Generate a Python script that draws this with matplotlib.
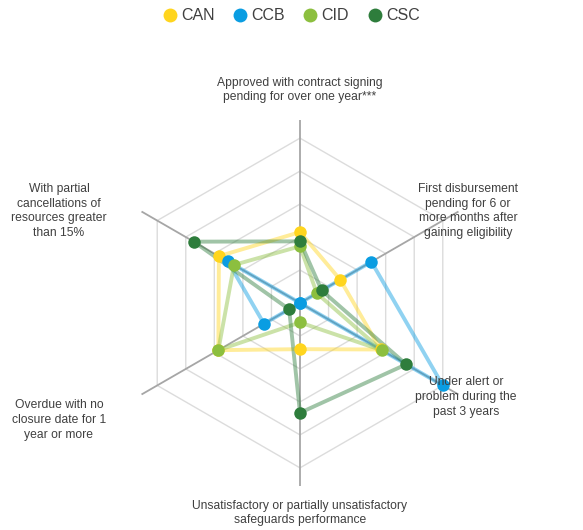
import numpy as np
import matplotlib
matplotlib.use("Agg")
import matplotlib.pyplot as plt
from matplotlib.lines import Line2D

plt.rcParams['font.family'] = ['Liberation Sans', 'DejaVu Sans']

categories = [
    "Approved with contract signing\npending for over one year***",
    "First disbursement\npending for 6 or\nmore months after\ngaining eligibility",
    "Under alert or\nproblem during the\npast 3 years",
    "Unsatisfactory or partially unsatisfactory\nsafeguards performance",
    "Overdue with no\nclosure date for 1\nyear or more",
    "With partial\ncancellations of\nresources greater\nthan 15%",
]
series_names = ["CAN", "CCB", "CID", "CSC"]
can = [2.15, 1.41, 2.82, 1.40, 2.86, 2.84]
ccb = [0.0, 2.50, 5.0, 0.0, 1.26, 2.53]
cid = [1.72, 0.59, 2.86, 0.59, 2.86, 2.31]
csc = [1.87, 0.76, 3.72, 3.33, 0.38, 3.72]
colors = ["#FFD51E", "#0A9DE2", "#8CBF3F", "#2E7D3C"]

W, H = 583, 530
fig = plt.figure(figsize=(W / 100, H / 100), dpi=100)

# polar axes centred at (300, 303) px, radius 183 px
cx, cy, R = 300, 303, 183
ax = fig.add_axes([(cx - R) / W, (H - cy - R) / H, 2 * R / W, 2 * R / H], projection="polar")
ax.set_theta_zero_location("N")
ax.set_theta_direction(-1)
rmax = 5.55
ax.set_ylim(0, rmax)
ax.set_xticks([])
ax.set_yticks([])
ax.grid(False)
ax.spines["polar"].set_visible(False)

n = len(categories)
theta = np.arange(n) * 2 * np.pi / n
theta_c = np.append(theta, theta[0])

# hexagonal rings
for r in [1, 2, 3, 4, 5]:
    ax.plot(theta_c, [r] * (n + 1), color="#dcdcdc", lw=1.0, zorder=1)
# spokes
for t in theta:
    ax.plot([t, t], [0, rmax], color="#a6a6a6", lw=1.3, zorder=2)

for vals, col in zip([can, ccb, cid, csc], colors):
    v = np.append(vals, vals[0])
    ax.plot(theta_c, v, color=col, lw=2.8, alpha=0.45, zorder=3, solid_joinstyle="round")
    ax.plot(theta, vals, "o", color=col, ms=9, mec="none", zorder=4)

# category labels (pixel positions of each text block centre)
label_pos = [(300, 90), (468, 211), (466, 397), (300, 513), (59, 420), (59, 211)]
for txt, (px, py) in zip(categories, label_pos):
    fig.text(px / W, 1 - py / H, txt, ha="center", va="center", fontsize=8.7,
             color="#404040", linespacing=1.3)

handles = [Line2D([], [], marker="o", ls="none", color=c, ms=10, mec="none") for c in colors]
fig.legend(handles, series_names, loc="center", bbox_to_anchor=(0.5, 1 - 16 / H), ncol=4,
           frameon=False, fontsize=11.5, handlelength=0.8, handletextpad=0.3,
           columnspacing=1.2, labelcolor="#404040", borderaxespad=0)

fig.savefig("out.png", dpi=100)
